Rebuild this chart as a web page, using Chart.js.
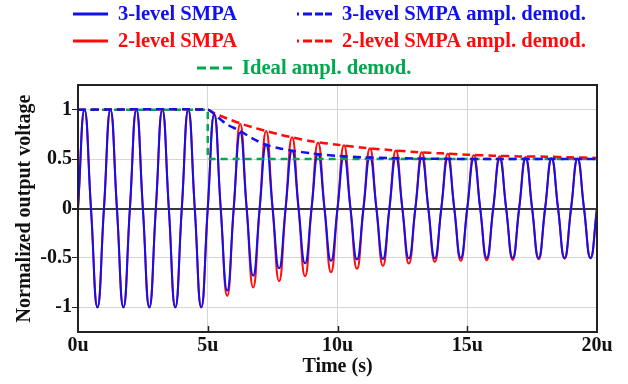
<!DOCTYPE html>
<html>
<head>
<meta charset="utf-8">
<script src="https://cdn.jsdelivr.net/npm/chart.js@4.4.1/dist/chart.umd.min.js"></script>
<style>
    html, body { margin: 0; padding: 0; background: #ffffff; }
    #wrap { width: 628px; height: 384px; }
</style>
</head>
<body>
<div id="wrap"><canvas id="voltChart" width="628" height="384"></canvas></div>
<script>
// carrier cycles (1 MHz), start time of each cycle in us
const cycleStart = [0, 1, 2, 3, 4, 5, 6, 7, 8, 9, 10, 11, 12, 13, 14, 15, 16, 17, 18, 19];

// positive / negative extreme of each cycle
const peak3 = [1, 1, 1, 1, 1, 0.95, 0.77, 0.645, 0.585, 0.55, 0.53, 0.525, 0.515, 0.51, 0.505, 0.5, 0.5, 0.5, 0.5, 0.5];
const trough3 = [-1, -1, -1, -1, -1, -0.83, -0.68, -0.605, -0.555, -0.53, -0.515, -0.51, -0.505, -0.505, -0.5, -0.5, -0.5, -0.5, -0.5, -0.5];
const peak2 = [1, 1, 1, 1, 1, 0.96, 0.855, 0.785, 0.72, 0.665, 0.64, 0.61, 0.588, 0.57, 0.555, 0.54, 0.53, 0.52, 0.512, 0.507];
const trough2 = [-1, -1, -1, -1, -1, -0.885, -0.8, -0.735, -0.685, -0.645, -0.61, -0.58, -0.557, -0.54, -0.53, -0.525, -0.52, -0.514, -0.508, -0.505];

// amplitude demodulation curves
const demodTime3 = [0, 5, 5.25, 5.5, 5.75, 6.25, 6.75, 7.25, 7.75, 8.25, 9, 10, 11, 12, 13, 14, 16, 18, 20];
const demod3 = [1, 1, 0.955, 0.9, 0.85, 0.785, 0.705, 0.645, 0.61, 0.585, 0.558, 0.532, 0.518, 0.51, 0.506, 0.503, 0.5, 0.5, 0.5];
const demodTime2 = [0, 5, 5.25, 5.75, 6.25, 6.75, 7.25, 7.75, 8.25, 9, 10, 11, 12, 13, 14, 15, 16, 17, 18, 19, 20];
const demod2 = [1, 1, 0.965, 0.91, 0.862, 0.82, 0.785, 0.75, 0.72, 0.68, 0.645, 0.615, 0.592, 0.572, 0.558, 0.545, 0.535, 0.527, 0.525, 0.518, 0.512];
const idealTime = [0, 5, 5, 20];
const ideal = [1, 1, 0.5, 0.5];

const xTicks = [0, 5, 10, 15, 20];
const yTicks = [-1, -0.5, 0, 0.5, 1];

const BLUE = '#1010f0';
const RED = '#ff0a0a';
const GREEN = '#00a84f';
const FONT = '"Liberation Serif", "Times New Roman", serif';

function wave(peaks, troughs) {
    const pts = [];
    cycleStart.forEach((t, i) => {
        pts.push({ x: t, y: 0 });
        pts.push({ x: t + 0.25, y: peaks[i] });
        pts.push({ x: t + 0.5, y: 0 });
        pts.push({ x: t + 0.75, y: troughs[i] });
    });
    pts.push({ x: 20, y: 0 });
    return pts;
}

function pairs(xs, ys) {
    return xs.map((x, i) => ({ x: x, y: ys[i] }));
}

const legendItems = [
    { text: '3-level SMPA', color: BLUE, dash: null, x: 73, y: 14 },
    { text: '3-level SMPA ampl. demod.', color: BLUE, dash: [2, 4, 9, 3, 8, 2, 7, 60], x: 297, y: 14 },
    { text: '2-level SMPA', color: RED, dash: null, x: 73, y: 41 },
    { text: '2-level SMPA ampl. demod.', color: RED, dash: [2, 4, 9, 3, 8, 2, 7, 60], x: 297, y: 41 },
    { text: 'Ideal ampl. demod.', color: GREEN, dash: [9, 4, 9, 4, 10, 60], x: 197, y: 68 }
];

const legendPlugin = {
    id: 'topLegend',
    afterDraw(chart) {
        const ctx = chart.ctx;
        ctx.save();
        ctx.font = 'bold 20.6px ' + FONT;
        ctx.textBaseline = 'middle';
        legendItems.forEach(item => {
            ctx.strokeStyle = item.color;
            ctx.lineWidth = 3;
            ctx.setLineDash(item.dash || []);
            ctx.beginPath();
            ctx.moveTo(item.x, item.y);
            ctx.lineTo(item.x + 35, item.y);
            ctx.stroke();
            ctx.fillStyle = item.color;
            ctx.fillText(item.text, item.x + 45, item.y + 1);
        });
        ctx.restore();
    }
};

const framePlugin = {
    id: 'frame',
    afterDraw(chart) {
        const { ctx, chartArea } = chart;
        const xs = chart.scales.x;
        ctx.save();
        ctx.strokeStyle = '#222';
        ctx.lineWidth = 2;
        ctx.setLineDash([]);
        ctx.strokeRect(chartArea.left, chartArea.top, chartArea.right - chartArea.left, chartArea.bottom - chartArea.top);
        ctx.lineWidth = 1.5;
        [5, 10, 15].forEach(v => {
            const px = Math.round(xs.getPixelForValue(v)) + 0.5;
            ctx.beginPath();
            ctx.moveTo(px, chartArea.bottom);
            ctx.lineTo(px, chartArea.bottom - 6);
            ctx.stroke();
        });
        ctx.restore();
    }
};

const axisFont = { family: FONT, weight: 'bold', size: 20 };

new Chart(document.getElementById('voltChart'), {
    type: 'line',
    data: {
        datasets: [
            { label: '3-level SMPA ampl. demod.', data: pairs(demodTime3, demod3), borderColor: BLUE, borderWidth: 2.5, borderDash: [8, 5], tension: 0.3 },
            { label: '2-level SMPA ampl. demod.', data: pairs(demodTime2, demod2), borderColor: RED, borderWidth: 2.5, borderDash: [8, 5], tension: 0.3 },
            { label: 'Ideal ampl. demod.', data: pairs(idealTime, ideal), borderColor: GREEN, borderWidth: 2.5, borderDash: [7, 5], tension: 0 },
            { label: '3-level SMPA', data: wave(peak3, trough3), borderColor: BLUE, borderWidth: 2, tension: 0.5 },
            { label: '2-level SMPA', data: wave(peak2, trough2), borderColor: RED, borderWidth: 2, tension: 0.5 }
        ]
    },
    options: {
        responsive: false,
        animation: false,
        events: [],
        layout: { padding: { top: 85, right: 31, bottom: 0, left: 0 } },
        elements: { point: { radius: 0 }, line: { fill: false, capBezierPoints: true } },
        plugins: { legend: { display: false }, tooltip: { enabled: false } },
        scales: {
            x: {
                type: 'linear',
                min: 0,
                max: 20,
                afterBuildTicks: s => { s.ticks = xTicks.map(v => ({ value: v })); },
                afterFit: s => { s.height = 52; },
                ticks: { callback: v => v + 'u', font: axisFont, color: '#111', padding: 2, maxRotation: 0, autoSkip: false },
                grid: { color: '#d6d6d6', lineWidth: 1, drawTicks: false },
                border: { display: false },
                title: { display: true, text: 'Time (s)', font: axisFont, color: '#111', padding: { top: 0, bottom: 5 } }
            },
            y: {
                min: -1.25,
                max: 1.25,
                afterBuildTicks: s => { s.ticks = yTicks.map(v => ({ value: v })); },
                afterFit: s => { s.width = 78; },
                ticks: { callback: v => String(v), font: axisFont, color: '#111', padding: 0 },
                grid: {
                    color: c => (c.tick && c.tick.value === 0 ? '#3a3a3a' : '#d6d6d6'),
                    lineWidth: c => (c.tick && c.tick.value === 0 ? 2 : 1),
                    tickLength: 6,
                    tickColor: '#222'
                },
                border: { display: false },
                title: { display: true, text: 'Normalized output voltage', font: axisFont, color: '#111', padding: { top: 13, bottom: 0 } }
            }
        }
    },
    plugins: [legendPlugin, framePlugin]
});
</script>
</body>
</html>
